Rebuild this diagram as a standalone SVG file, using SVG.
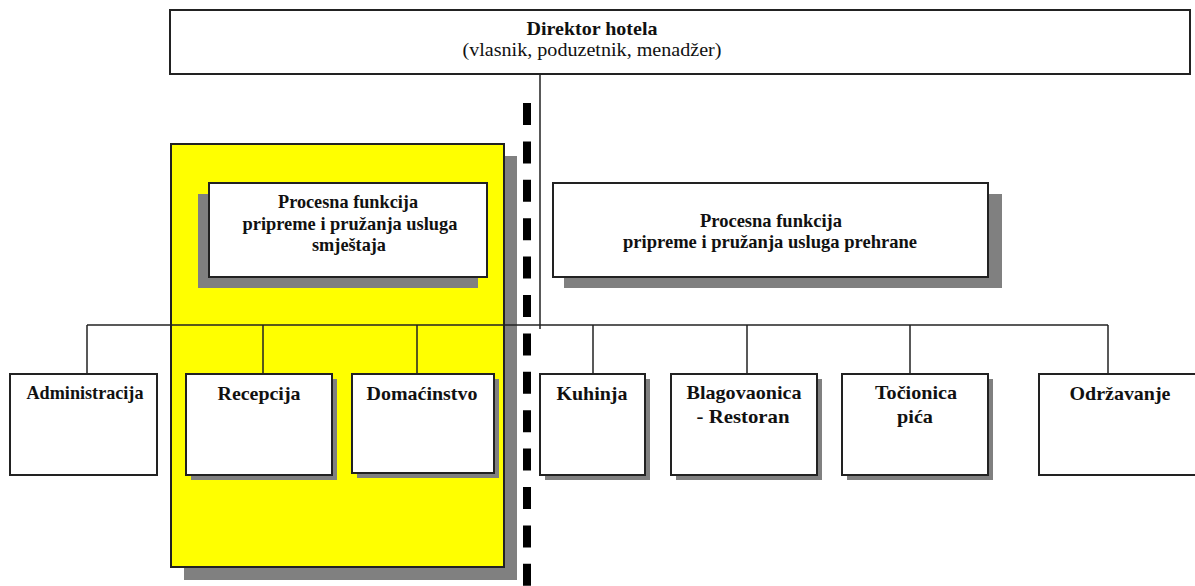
<svg xmlns="http://www.w3.org/2000/svg" width="1195" height="586" viewBox="0 0 1195 586">
<style>
.box{fill:#fff;stroke:#222;stroke-width:2}
.shadow{fill:#808080}
.t{font-family:"Liberation Serif","Times New Roman",serif;font-size:19px;font-weight:bold;fill:#111;text-anchor:middle}
.r{font-weight:normal}
.ln{stroke:#222;stroke-width:1.5;fill:none}
</style>
<rect width="1195" height="586" fill="#fff"/>
<g id="director">
<rect class="box" x="170" y="10" width="1020" height="64" stroke-width="1.8"/>
<text class="t" x="592" y="35" textLength="131" lengthAdjust="spacingAndGlyphs">Direktor hotela</text>
<text class="t r" x="592" y="56" textLength="259" lengthAdjust="spacingAndGlyphs">(vlasnik, poduzetnik, menadžer)</text>
</g>
<g id="accommodation-area">
<rect class="shadow" x="184" y="156" width="333" height="424"/>
<rect x="171" y="144" width="333" height="423" fill="#ffff00" stroke="#222" stroke-width="2"/>
</g>
<g id="proc-smjestaj">
<rect class="shadow" x="198" y="194" width="280" height="94"/>
<rect class="box" x="209" y="183" width="278" height="94"/>
<text class="t" x="348" y="208" textLength="140" lengthAdjust="spacingAndGlyphs">Procesna funkcija</text>
<text class="t" x="350" y="230" textLength="215" lengthAdjust="spacingAndGlyphs">pripreme i pružanja usluga</text>
<text class="t" x="349" y="251" textLength="74" lengthAdjust="spacingAndGlyphs">smještaja</text>
</g>
<g id="proc-prehrana">
<rect class="shadow" x="564" y="194" width="438" height="94"/>
<rect class="box" x="553" y="183" width="435" height="94"/>
<text class="t" x="771" y="227" textLength="142" lengthAdjust="spacingAndGlyphs">Procesna funkcija</text>
<text class="t" x="770" y="248" textLength="294" lengthAdjust="spacingAndGlyphs">pripreme i pružanja usluga prehrane</text>
</g>
<g id="connectors">
<line class="ln" x1="540" y1="74" x2="540" y2="329"/>
<line class="ln" x1="87" y1="325" x2="1108" y2="325"/>
<line class="ln" x1="87" y1="325" x2="87" y2="374"/>
<line class="ln" x1="263" y1="325" x2="263" y2="374"/>
<line class="ln" x1="417" y1="325" x2="417" y2="374"/>
<line class="ln" x1="593" y1="325" x2="593" y2="374"/>
<line class="ln" x1="747" y1="325" x2="747" y2="374"/>
<line class="ln" x1="910" y1="325" x2="910" y2="374"/>
<line class="ln" x1="1108" y1="325" x2="1108" y2="374"/>
</g>
<g id="divider">
<line x1="527" y1="103" x2="527" y2="586" stroke="#000" stroke-width="8" stroke-dasharray="22 16.4"/>
</g>
<g id="administracija">
<rect class="box" x="10" y="374" width="147" height="101"/>
<text class="t" x="85" y="399" textLength="117" lengthAdjust="spacingAndGlyphs">Administracija</text>
</g>
<g id="recepcija">
<rect class="shadow" x="191" y="379" width="146" height="101"/>
<rect class="box" x="186" y="374" width="146" height="101"/>
<text class="t" x="259" y="400" textLength="83" lengthAdjust="spacingAndGlyphs">Recepcija</text>
</g>
<g id="domacinstvo">
<rect class="shadow" x="357" y="379" width="142" height="99"/>
<rect class="box" x="352" y="374" width="142" height="99"/>
<text class="t" x="422" y="400" textLength="111" lengthAdjust="spacingAndGlyphs">Domaćinstvo</text>
</g>
<g id="kuhinja">
<rect class="shadow" x="545" y="379" width="105" height="101"/>
<rect class="box" x="540" y="374" width="105" height="101"/>
<text class="t" x="592" y="400" textLength="71" lengthAdjust="spacingAndGlyphs">Kuhinja</text>
</g>
<g id="blagovaonica">
<rect class="shadow" x="676" y="379" width="146" height="101"/>
<rect class="box" x="671" y="374" width="146" height="101"/>
<text class="t" x="744" y="399" textLength="115" lengthAdjust="spacingAndGlyphs">Blagovaonica</text>
<text class="t" x="743" y="423" textLength="93" lengthAdjust="spacingAndGlyphs">- Restoran</text>
</g>
<g id="tocionica">
<rect class="shadow" x="847" y="379" width="146" height="101"/>
<rect class="box" x="842" y="374" width="146" height="101"/>
<text class="t" x="916" y="399" textLength="82" lengthAdjust="spacingAndGlyphs">Točionica</text>
<text class="t" x="915" y="423" textLength="36" lengthAdjust="spacingAndGlyphs">pića</text>
</g>
<g id="odrzavanje">
<rect class="box" x="1039" y="374" width="170" height="101"/>
<text class="t" x="1120" y="400" textLength="101" lengthAdjust="spacingAndGlyphs">Održavanje</text>
</g>
</svg>
